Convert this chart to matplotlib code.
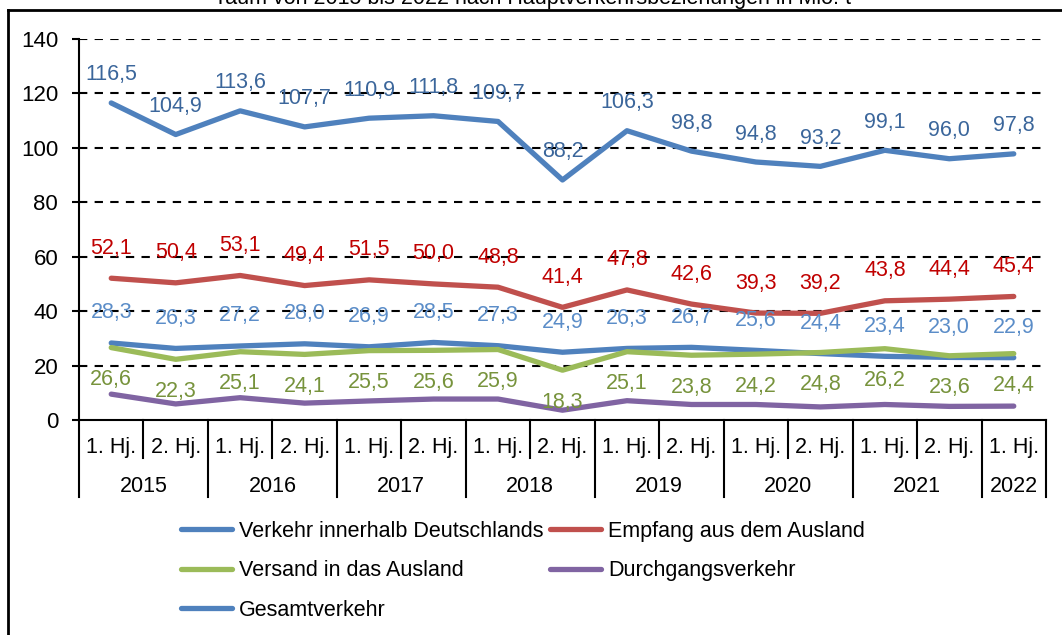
import matplotlib
matplotlib.use("Agg")
import matplotlib.pyplot as plt
from matplotlib.lines import Line2D
import numpy as np

plt.rcParams["font.family"] = ["Liberation Sans", "DejaVu Sans"]

# ====== Daten ======
halbjahre = ["1. Hj.", "2. Hj."] * 7 + ["1. Hj."]
jahre = ["2015", "2016", "2017", "2018", "2019", "2020", "2021", "2022"]

gesamt = [116.5, 104.9, 113.6, 107.7, 110.9, 111.8, 109.7, 88.2, 106.3, 98.8, 94.8, 93.2, 99.1, 96.0, 97.8]
empfang = [52.1, 50.4, 53.1, 49.4, 51.5, 50.0, 48.8, 41.4, 47.8, 42.6, 39.3, 39.2, 43.8, 44.4, 45.4]
innerhalb = [28.3, 26.3, 27.2, 28.0, 26.9, 28.5, 27.3, 24.9, 26.3, 26.7, 25.6, 24.4, 23.4, 23.0, 22.9]
versand = [26.6, 22.3, 25.1, 24.1, 25.5, 25.6, 25.9, 18.3, 25.1, 23.8, 24.2, 24.8, 26.2, 23.6, 24.4]
durchgang = [9.5, 5.9, 8.2, 6.2, 7.0, 7.7, 7.7, 3.6, 7.1, 5.7, 5.7, 4.8, 5.7, 5.0, 5.1]

titel = "raum von 2015 bis 2022 nach Hauptverkehrsbeziehungen in Mio. t"

x = np.arange(len(halbjahre))
FS = 15.5

fig = plt.figure(figsize=(10.62, 6.35), dpi=100)
ax = fig.add_axes([79 / 1062, 1 - 420 / 635, (1046 - 79) / 1062, 381 / 635])

lw = 3.8
l_inn, = ax.plot(x, innerhalb, color="#4F81BD", lw=lw, solid_capstyle="round", label="Verkehr innerhalb Deutschlands")
l_emp, = ax.plot(x, empfang, color="#C0504D", lw=lw, solid_capstyle="round", label="Empfang aus dem Ausland")
l_ver, = ax.plot(x, versand, color="#9BBB59", lw=lw, solid_capstyle="round", label="Versand in das Ausland")
l_dur, = ax.plot(x, durchgang, color="#8064A2", lw=lw, solid_capstyle="round", label="Durchgangsverkehr")
l_ges, = ax.plot(x, gesamt, color="#4F81BD", lw=lw, solid_capstyle="round", label="Gesamtverkehr")

def labels(vals, color, off):
    for xi, v in zip(x, vals):
        ax.annotate(f"{v:.1f}".replace(".", ","), (xi, v), xytext=(0, off),
                    textcoords="offset pixels", ha="center", va="center",
                    color=color, fontsize=FS)

labels(gesamt, "#3B669B", 28)
labels(empfang, "#C00000", 30)
labels(innerhalb, "#5B8DC8", 30)
labels(versand, "#77933C", -32)

ax.set_xlim(-0.5, len(x) - 0.5)
ax.set_ylim(0, 140)
ax.set_yticks(range(0, 141, 20))
ax.tick_params(axis="y", labelsize=16, length=5, width=1.5, direction="out", pad=10)
ax.tick_params(axis="x", length=0, labelbottom=False)
for s in ["top", "right"]:
    ax.spines[s].set_visible(False)
ax.spines["left"].set_linewidth(1.5)
ax.spines["bottom"].set_linewidth(1.5)
for yv in range(20, 141, 20):
    ax.axhline(yv, color="black", lw=1.5, ls=(0, (4, 3.5)), zorder=0)

# ====== Kategorienachse (zweistufig) ======
tr = ax.get_xaxis_transform()
px = 1 / 381
for i, lab in enumerate(halbjahre):
    ax.text(i, -27 * px, lab, transform=tr, ha="center", va="center", fontsize=FS)
for i in range(len(x) + 1):
    is_year = (i % 2 == 0) or i == len(x)
    bottom = -77 * px if is_year else -38 * px
    ax.plot([i - 0.5, i - 0.5], [0, bottom], transform=tr, color="black", lw=1.5, clip_on=False)
for j, yr in enumerate(jahre):
    start = 2 * j - 0.5
    end = min(2 * j + 1.5, len(x) - 0.5)
    ax.text((start + end) / 2, -66 * px, yr, transform=tr, ha="center", va="center", fontsize=FS)

# ====== Legende ======
fig.legend([l_inn, l_ver, l_ges, l_emp, l_dur],
           [h.get_label() for h in [l_inn, l_ver, l_ges, l_emp, l_dur]],
           ncol=2, frameon=False, fontsize=FS, loc="upper left",
           bbox_to_anchor=(181 / 1062, 1 - 521 / 635),
           handlelength=2.35, handletextpad=0.35, columnspacing=0.3,
           labelspacing=0.85, borderaxespad=0, borderpad=0)

# Titel (oben abgeschnitten) und Rahmen
fig.text(535 / 1062, 1 - 4 / 635, titel, ha="center", va="baseline", fontsize=FS)
fig.add_artist(Line2D([8 / 1062, 1], [1 - 10 / 635, 1 - 10 / 635], color="black", lw=2))
fig.add_artist(Line2D([8 / 1062, 8 / 1062], [0, 1 - 10 / 635], color="black", lw=2))

fig.savefig("out.png", dpi=100)
